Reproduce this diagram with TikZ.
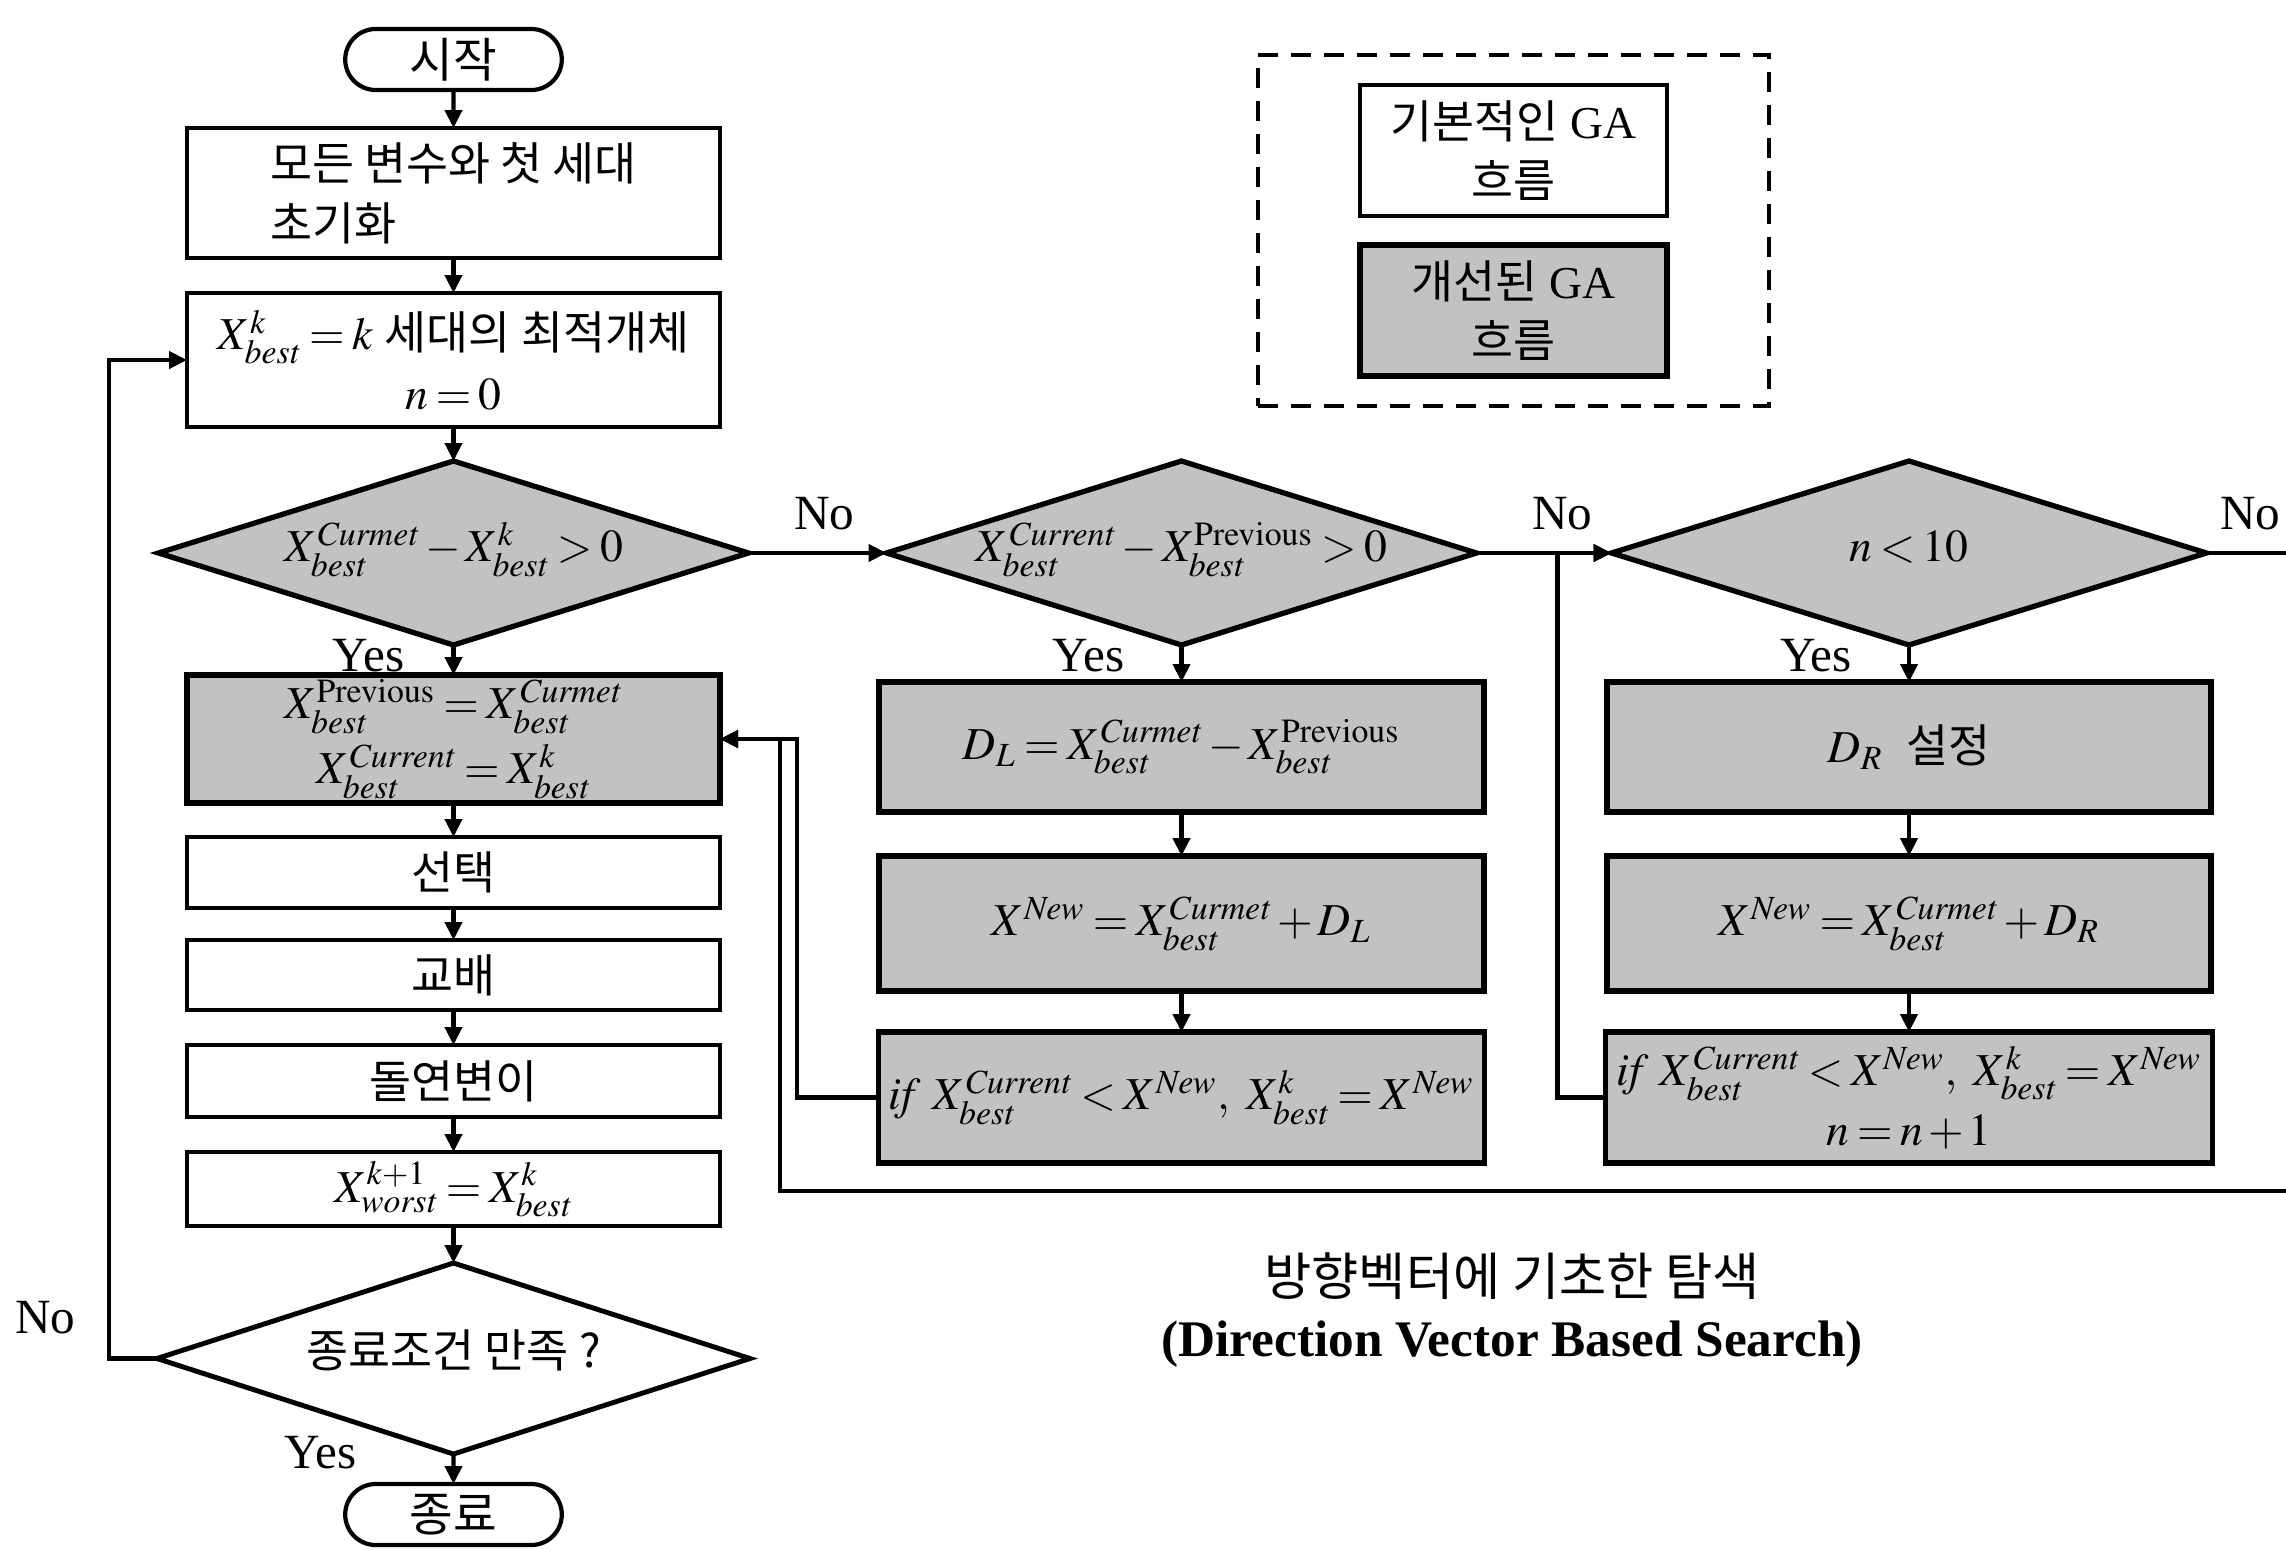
\documentclass[tikz,border=0pt]{standalone}
\usepackage{mathptmx}
\usepackage[no-math]{fontspec}
\setmainfont{Liberation Serif}
\newfontfamily\kr{Noto Sans CJK KR}
\usetikzlibrary{positioning, arrows.meta, shapes.geometric, shapes.misc, fit, calc}
\definecolor{ShadeA}{HTML}{C2C2C2}
\medmuskip=2mu plus 1mu
\thickmuskip=3mu plus 2mu
\tikzset{
  box/.style={draw, line width=1.2pt, align=center, minimum width=5.33cm,
              outer sep=0pt, inner xsep=3pt, inner ysep=1pt,
              font=\fontsize{13}{17}\selectfont},
  impr/.style={fill=ShadeA, line width=1.5pt},
  dec/.style={diamond, draw, line width=1.4pt, aspect=3.2, inner sep=0pt,
              outer sep=0pt, text height=1.4ex, text depth=0.3ex,
              minimum width=5.9cm, minimum height=1.84cm,
              font=\fontsize{13}{17}\selectfont},
  term/.style={rounded rectangle, draw, line width=1.2pt, inner ysep=0.5pt,
               outer sep=0pt, minimum width=2.40cm, minimum height=0.61cm,
               font=\fontsize{13.5}{17}\selectfont},
  arr/.style={-{Triangle[length=1.8mm, width=1.7mm]}, line width=1.2pt},
  wire/.style={line width=1.2pt},
  lbl/.style={font=\fontsize{14}{17}\selectfont, inner sep=0pt}
}
\newcommand{\xbest}[1]{X_{\mathit{best}}^{#1}}

\begin{document}
\begin{tikzpicture}[node distance=0.34cm and 1.36cm]
  \useasboundingbox (0,0) rectangle (22.86,-15.50);

  % ----- Basic GA column -----
  \node[term] (start) at (4.535,-0.595) {\kr 시작};

  \node[box, align=left, minimum height=1.30cm, below=0.38cm of start] (init)
    {\kr 모든 변수와 첫 세대\\\kr 초기화};

  \node[box, minimum height=1.34cm, below=0.35cm of init] (best)
    {$\xbest{k} = k$ {\kr 세대의 최적개체}\\$n = 0$};

  \node[dec, impr, below=of best] (dec1)
    {$\xbest{\mathit{Curmet}} - \xbest{k} > 0$};

  \node[box, impr, minimum height=1.28cm, below=0.30cm of dec1] (upd)
    {$\xbest{\mathrm{Previous}} = \xbest{\mathit{Curmet}}$\\[1.5pt]
     $\xbest{\mathit{Current}} = \xbest{k}$};

  \node[box, minimum height=0.71cm, below=of upd] (sel) {\kr 선택};
  \node[box, minimum height=0.70cm, below=0.32cm of sel] (cross) {\kr 교배};
  \node[box, minimum height=0.72cm, below=0.35cm of cross] (mut) {\kr 돌연변이};
  \node[box, minimum height=0.74cm, below=0.35cm of mut] (worst)
    {$X_{\mathit{worst}}^{k+1} = \xbest{k}$};

  \node[dec, minimum width=5.93cm, minimum height=1.91cm,
        below=0.37cm of worst] (stop) {\kr 종료조건 만족 ?};

  \node[term, below=0.30cm of stop] (finish) {\kr 종료};

  % ----- Direction vector search: left direction -----
  \node[dec, impr, right=1.38cm of dec1] (cmp)
    {$\xbest{\mathit{Current}} - \xbest{\mathrm{Previous}} > 0$};

  \node[box, impr, minimum width=6.05cm, minimum height=1.30cm,
        below=0.37cm of cmp] (dl)
    {$D_L = \xbest{\mathit{Curmet}} - \xbest{\mathrm{Previous}}$};

  \node[box, impr, minimum width=6.05cm, minimum height=1.35cm,
        below=0.44cm of dl] (newl)
    {$X^{\mathit{New}} = \xbest{\mathit{Curmet}} + D_L$};

  \node[box, impr, minimum width=6.05cm, minimum height=1.31cm,
        below=0.41cm of newl] (ifl)
    {$\mathit{if}\ \xbest{\mathit{Current}} < X^{\mathit{New}},\ \xbest{k} = X^{\mathit{New}}$};

  % ----- Direction vector search: random direction -----
  \node[dec, impr, minimum width=5.95cm, right=1.35cm of cmp] (cnt) {$n < 10$};

  \node[box, impr, minimum width=6.04cm, minimum height=1.30cm,
        below=0.37cm of cnt] (dr) {$D_R$ \ {\kr 설정}};

  \node[box, impr, minimum width=6.04cm, minimum height=1.35cm,
        below=0.44cm of dr] (newr)
    {$X^{\mathit{New}} = \xbest{\mathit{Curmet}} + D_R$};

  \node[box, impr, minimum width=6.04cm, minimum height=1.31cm,
        below=0.41cm of newr] (ifr)
    {$\mathit{if}\ \xbest{\mathit{Current}} < X^{\mathit{New}},\ \xbest{k} = X^{\mathit{New}}$\\
     $n = n + 1$};

  % ----- Legend -----
  \node[box, minimum width=3.07cm, minimum height=1.31cm] (basic) at (15.135,-1.505)
    {{\kr 기본적인} GA\\\kr 흐름};
  \node[box, impr, minimum width=3.07cm, minimum height=1.31cm,
        below=0.29cm of basic] (better)
    {{\kr 개선된} GA\\\kr 흐름};
  \node[draw, line width=1.2pt, dash pattern=on 2mm off 1.3mm,
        fit=(basic)(better), inner xsep=1.02cm, inner ysep=0.30cm] (legend) {};

  % ----- Caption -----
  \node[align=center, font=\fontsize{14.6}{17.6}\selectfont] (caption) at (15.12,-13.10)
    {\kr 방향벡터에 기초한 탐색\\\textbf{(Direction Vector Based Search)}};

  % ----- Labels -----
  \node[lbl, below left=-0.06cm and 0.485cm of dec1.south] (yes1) {Yes};
  \node[lbl, below left=-0.06cm and 0.565cm of cmp.south] (yes2) {Yes};
  \node[lbl, below left=-0.06cm and 0.565cm of cnt.south] (yes3) {Yes};
  \node[lbl, below left=-0.18cm and 0.965cm of stop.south] (yes4) {Yes};
  \node[lbl, above right=0.22cm and 0.45cm of dec1.east] (no1) {No};
  \node[lbl, above right=0.22cm and 0.55cm of cmp.east] (no2) {No};
  \node[lbl, above right=0.22cm and 0.13cm of cnt.east] (no3) {No};
  \node[lbl, above left=0.24cm and 0.81cm of stop.west] (no4) {No};

  % ----- Main flow arrows -----
  \draw[arr] (start) -- (init);
  \draw[arr] (init) -- (best);
  \draw[arr] (best) -- (dec1);
  \draw[arr] (dec1) -- (upd);
  \draw[arr] (upd) -- (sel);
  \draw[arr] (sel) -- (cross);
  \draw[arr] (cross) -- (mut);
  \draw[arr] (mut) -- (worst);
  \draw[arr] (worst) -- (stop);
  \draw[arr] (stop) -- (finish);
  \draw[arr] (stop.west) -- ++(-0.48,0) |- (best.west);

  % ----- Search branch arrows -----
  \draw[arr] (dec1) -- (cmp);
  \draw[arr] (cmp) -- (dl);
  \draw[arr] (dl) -- (newl);
  \draw[arr] (newl) -- (ifl);
  \draw[arr] (cmp) -- (cnt);
  \draw[arr] (cnt) -- (dr);
  \draw[arr] (dr) -- (newr);
  \draw[arr] (newr) -- (ifr);

  % ----- Feedback lines -----
  \coordinate (rim) at (22.86,0);
  \coordinate (back) at (22.86,-11.91);
  \draw[wire] (cnt.east) -- (cnt.east -| rim);
  \draw[arr] (back) -| ([xshift=0.60cm]upd.east) -- (upd.east);
  \draw[arr] (ifl.west) -| ([xshift=0.77cm]upd.east) -- (upd.east);
  \draw[arr] (ifr.west) -| ([xshift=-0.54cm]cnt.west) -- (cnt.west);

\end{tikzpicture}
\end{document}
